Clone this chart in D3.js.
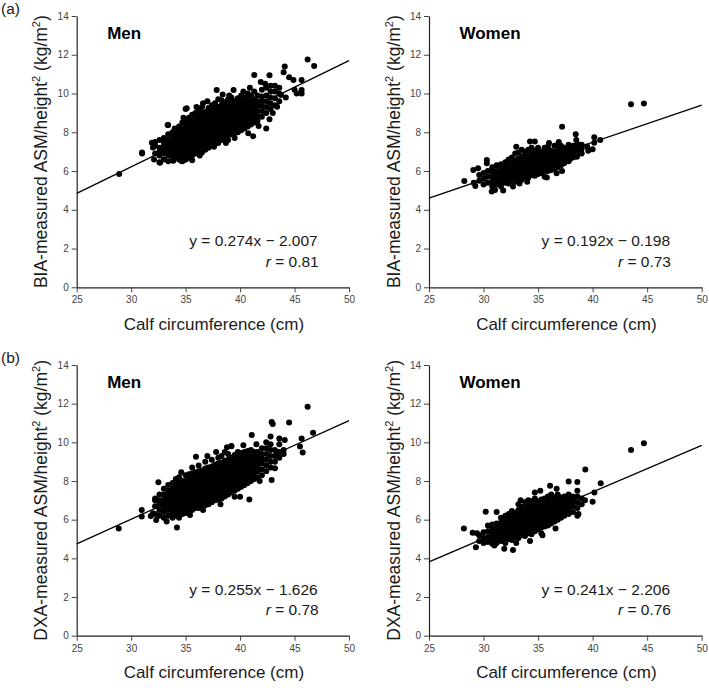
<!DOCTYPE html>
<html><head><meta charset="utf-8">
<script src="https://cdn.jsdelivr.net/npm/d3@7"></script>
<style>body{margin:0;background:#fff}svg{display:block}text{font-family:"Liberation Sans",Arial,sans-serif}</style>
</head><body>
<script>
// ---------- DATA ----------
const xTicks = [25, 30, 35, 40, 45, 50];
const yTicks = [0, 2, 4, 6, 8, 10, 12, 14];
const panelTitles = ["Men", "Women", "Men", "Women"];
const yLabelPrefixes = ["BIA", "BIA", "DXA", "DXA"];
const slopes = [0.274, 0.192, 0.255, 0.241];
const intercepts = [-2.007, -0.198, -1.626, -2.206];
const rValues = ["0.81", "0.73", "0.78", "0.76"];

// columns: [x, y1, y2, ...]
const menBIAcols = [
 [32.2,6.9,7.3,7.5],[32.6,6.45,6.8,7.0,7.2,7.6],[33.0,6.6,6.9,7.1,7.3,7.5,7.7],
 [33.4,6.5,6.8,7.0,7.2,7.4,7.6,7.9,8.38],[33.8,6.55,6.8,7.0,7.2,7.4,7.6,7.8,8.0],
 [34.1,6.7,6.9,7.1,7.3,7.5,7.7,7.9,8.1],[34.4,6.6,6.8,7.0,7.15,7.3,7.5,7.7,7.9,8.1,8.3],
 [34.7,6.5,6.75,6.95,7.1,7.3,7.45,7.6,7.8,8.0,8.2,8.5],
 [35.0,6.6,6.8,7.0,7.2,7.35,7.5,7.7,7.85,8.0,8.2,8.4,8.6,9.2],
 [35.3,6.7,6.9,7.1,7.3,7.45,7.6,7.8,7.95,8.1,8.3,8.5,8.75],
 [35.6,6.8,7.0,7.2,7.35,7.5,7.7,7.85,8.0,8.2,8.4,8.6,8.9],
 [35.9,6.9,7.1,7.3,7.45,7.6,7.8,7.95,8.1,8.3,8.5,8.7,9.0],
 [36.2,7.0,7.2,7.35,7.5,7.7,7.85,8.0,8.15,8.3,8.5,8.7,8.9,9.1],
 [36.5,6.95,7.15,7.35,7.55,7.7,7.9,8.05,8.2,8.4,8.55,8.75,9.0,9.3],
 [36.8,7.1,7.3,7.5,7.65,7.8,8.0,8.15,8.3,8.5,8.65,8.85,9.05],
 [37.1,7.2,7.4,7.6,7.75,7.9,8.1,8.25,8.4,8.6,8.8,9.0,9.25],
 [37.4,7.3,7.5,7.7,7.85,8.0,8.2,8.35,8.5,8.7,8.9,9.1,9.4],
 [37.7,7.4,7.6,7.8,7.95,8.1,8.3,8.45,8.6,8.8,9.0,9.2,9.5],
 [38.0,7.45,7.65,7.85,8.0,8.2,8.35,8.5,8.7,8.9,9.1,9.3,9.7],
 [38.3,7.6,7.8,8.0,8.15,8.3,8.5,8.65,8.8,9.0,9.2,9.4,9.65],
 [38.6,7.7,7.9,8.1,8.25,8.4,8.6,8.75,8.9,9.1,9.3,9.55],
 [38.9,7.6,7.85,8.05,8.2,8.35,8.5,8.7,8.85,9.0,9.2,9.4,9.7],
 [39.2,7.9,8.1,8.3,8.45,8.6,8.8,8.95,9.1,9.3,9.5,9.8],
 [39.5,7.95,8.15,8.35,8.5,8.7,8.85,9.0,9.2,9.4,9.6],
 [39.8,8.0,8.2,8.4,8.6,8.75,8.9,9.1,9.3,9.5,9.75],
 [40.1,8.1,8.3,8.5,8.7,8.85,9.0,9.2,9.4,9.6,9.9],
 [40.4,8.2,8.4,8.6,8.8,9.0,9.15,9.35,9.55,9.8],
 [40.7,8.3,8.5,8.7,8.9,9.1,9.3,9.5,9.7,10.0],
 [41.0,8.4,8.6,8.8,9.0,9.2,9.4,9.6,9.9],
 [41.3,8.5,8.75,9.0,9.2,9.45,9.7,10.1],
 [41.6,8.6,8.85,9.1,9.35,9.6,9.9],
 [42.0,8.8,9.1,9.35,9.6,9.85,10.2],
 [42.4,9.0,9.3,9.6,9.9,10.3],
 [42.8,9.2,9.5,9.8,10.1,10.4],
 [43.2,9.4,9.75,10.1,10.4],
 [43.6,9.6,10.0,10.3]
];
const menBIAextra = [
 [28.9,5.85],[31.0,6.9],[31.0,6.95],[46.2,11.76],[46.8,11.42],[44.1,11.39],[44.5,10.84],
 [44.0,11.1],[42.7,10.94],[41.3,10.96],[45.0,10.2],[45.65,10.7],[44.9,10.7],[45.2,10.0],
 [45.65,10.18],[45.65,10.0],[37.85,10.18],[39.4,10.18],[35.1,9.24],[42.7,8.67],[41.7,8.32],
 [40.75,7.95],[41.2,7.8],[42.4,8.2],[43.76,9.92],[44.2,9.8],[43.4,9.32],[33.35,8.38],
 [31.9,7.46],[32.0,7.22],[32.1,6.6],[32.65,6.43],[33.87,6.53],[34.6,6.53],[35.0,6.6],
 [34.0,8.2],[34.8,8.75],[36.0,9.3],[36.6,9.5],[37.0,9.6],[38.4,9.95],[39.0,9.9],[40.3,10.1],
 [40.9,10.3],[37.6,7.25],[38.7,7.45],[39.5,7.7],[36.3,6.8],[35.6,6.55],[43.0,9.0],[41.9,10.6],[42.3,10.5]
];

const womenBIAcols = [
 [29.6,5.5,5.8],[30.0,5.3,5.6,5.9],[30.4,5.4,5.7,6.0],[30.8,5.2,5.45,5.7,5.95,6.2],
 [31.2,5.3,5.55,5.8,6.0,6.3],[31.6,5.2,5.45,5.7,5.9,6.1,6.35],[32.0,5.4,5.6,5.8,6.0,6.2,6.45],
 [32.3,5.35,5.55,5.75,5.95,6.1,6.3,6.6],[32.6,5.5,5.7,5.85,6.0,6.2,6.4,6.7],
 [32.9,5.45,5.65,5.85,6.0,6.15,6.35,6.55,6.9],[33.2,5.6,5.8,5.95,6.1,6.25,6.45,6.65,6.95],
 [33.5,5.55,5.75,5.9,6.05,6.2,6.35,6.55,6.75,7.1],[33.8,5.7,5.85,6.0,6.15,6.3,6.45,6.6,6.8,7.0],
 [34.1,5.65,5.85,6.0,6.15,6.3,6.45,6.6,6.8,7.1],[34.4,5.8,5.95,6.1,6.25,6.4,6.55,6.7,6.9,7.2],
 [34.7,5.75,5.9,6.05,6.2,6.35,6.5,6.65,6.85,7.05],[35.0,5.85,6.0,6.15,6.3,6.45,6.6,6.75,6.95,7.2],
 [35.3,5.9,6.05,6.2,6.35,6.5,6.65,6.8,7.0],[35.6,5.7,6.0,6.15,6.3,6.45,6.6,6.75,6.95,7.2],
 [35.9,6.0,6.2,6.35,6.5,6.65,6.8,7.0,7.25],[36.2,6.05,6.25,6.4,6.55,6.7,6.85,7.05],
 [36.5,6.1,6.3,6.5,6.65,6.8,7.0,7.3],[36.8,6.2,6.4,6.55,6.7,6.9,7.1,7.35],
 [37.1,6.3,6.5,6.7,6.85,7.05,7.3],[37.4,6.4,6.6,6.8,7.0,7.2],[37.8,6.5,6.75,6.95,7.15,7.35],
 [38.2,6.7,6.9,7.1,7.3],[38.6,6.8,7.0,7.2,7.4],[39.0,6.9,7.15,7.35]
];
const womenBIAextra = [
 [43.52,9.44],[44.7,9.48],[37.2,8.29],[28.24,5.49],[29.25,5.23],[29.1,5.4],[29.06,6.05],
 [29.5,6.14],[30.3,6.4],[30.3,6.57],[30.75,4.94],[31.05,5.02],[31.8,4.99],[32.7,5.2],
 [38.45,7.9],[38.5,7.6],[40.15,7.74],[40.15,7.46],[40.7,7.6],[39.5,7.26],[39.6,7.05],
 [40.0,7.12],[38.55,6.74],[37.9,6.6],[37.2,6.0],[36.7,5.88],[35.8,5.66],[34.26,7.52],[34.7,7.52],
 [33.0,7.25],[36.0,7.45],[36.9,7.5],[34.0,5.45],[33.3,5.35]
];

const menDXAcols = [
 [32.2,6.3,6.7,7.0,7.1],[32.6,6.2,6.5,6.8,7.0,7.3],[33.0,6.1,6.4,6.6,6.85,7.05,7.3,7.6],
 [33.4,6.2,6.5,6.7,6.9,7.1,7.3,7.5,7.8],[33.8,6.1,6.35,6.6,6.8,7.0,7.2,7.4,7.6,7.9],
 [34.1,6.2,6.45,6.65,6.85,7.05,7.25,7.45,7.65,7.85,8.1],
 [34.4,6.1,6.35,6.55,6.75,6.95,7.1,7.3,7.5,7.7,7.9,8.2],
 [34.7,6.3,6.5,6.7,6.9,7.05,7.25,7.4,7.6,7.8,8.0],
 [35.0,6.35,6.55,6.75,6.9,7.1,7.25,7.45,7.6,7.8,8.0,8.3],
 [35.3,6.4,6.6,6.8,6.95,7.15,7.3,7.5,7.65,7.85,8.05,8.35],
 [35.6,6.5,6.7,6.9,7.05,7.2,7.4,7.55,7.7,7.9,8.1,8.4,8.7],
 [35.9,6.6,6.8,7.0,7.15,7.3,7.5,7.65,7.8,8.0,8.2,8.45],
 [36.2,6.6,6.85,7.05,7.2,7.4,7.55,7.7,7.9,8.05,8.25,8.5,8.8],
 [36.5,6.7,6.9,7.1,7.3,7.45,7.6,7.8,7.95,8.1,8.3,8.55],
 [36.8,6.75,7.0,7.2,7.35,7.5,7.7,7.85,8.0,8.2,8.4,8.65,9.0],
 [37.1,6.8,7.05,7.25,7.4,7.6,7.75,7.9,8.1,8.25,8.45,8.7],
 [37.4,6.9,7.1,7.3,7.5,7.65,7.8,8.0,8.15,8.3,8.5,8.75,9.1],
 [37.7,7.0,7.2,7.4,7.55,7.7,7.9,8.05,8.2,8.4,8.6,8.85],
 [38.0,7.05,7.3,7.45,7.6,7.8,7.95,8.1,8.3,8.45,8.65,8.9,9.2],
 [38.3,7.1,7.35,7.55,7.7,7.85,8.0,8.2,8.35,8.5,8.7,8.95,9.3],
 [38.6,7.2,7.45,7.6,7.8,7.95,8.1,8.3,8.45,8.6,8.8,9.05,9.5],
 [38.9,7.3,7.5,7.7,7.85,8.0,8.2,8.35,8.5,8.7,8.9,9.1,9.4],
 [39.2,7.4,7.6,7.8,7.95,8.1,8.3,8.45,8.6,8.8,9.0,9.2,9.8],
 [39.5,7.5,7.7,7.9,8.05,8.2,8.4,8.55,8.7,8.9,9.1,9.35],
 [39.8,7.6,7.8,8.0,8.15,8.3,8.5,8.65,8.8,9.0,9.2,9.5],
 [40.1,7.7,7.9,8.1,8.25,8.4,8.6,8.8,9.0,9.2,9.45],
 [40.4,7.8,8.0,8.2,8.4,8.6,8.8,9.0,9.2,9.5],
 [40.7,7.9,8.1,8.3,8.5,8.7,8.9,9.1,9.3,9.55],
 [41.0,8.0,8.25,8.5,8.7,8.9,9.1,9.3,9.6],
 [41.3,8.1,8.4,8.6,8.8,9.0,9.25,9.5],
 [41.6,8.2,8.5,8.75,9.0,9.25,9.5],
 [42.0,8.3,8.6,8.9,9.15,9.4,9.7],
 [42.4,8.5,8.8,9.1,9.4,9.7,10.0],
 [42.8,8.7,9.0,9.3,9.6,9.9,10.3],
 [43.2,9.0,9.3,9.6],
 [43.6,9.2,9.5,9.9,10.2],
 [44.0,9.4,9.6]
];
const menDXAextra = [
 [28.86,5.55],[30.97,6.5],[30.97,6.16],[46.2,11.84],[46.7,10.5],[44.5,11.02],[42.9,11.05],
 [43.0,10.95],[41.07,10.38],[45.65,10.2],[45.75,9.47],[45.5,9.78],[44.1,10.12],[43.36,9.43],
 [43.2,8.66],[42.9,8.05],[40.85,7.05],[40.0,7.19],[39.5,7.19],[34.2,5.6],[35.4,6.24],
 [31.8,6.19],[32.0,6.33],[32.3,5.98],[33.26,5.9],[32.5,7.93],[35.95,9.26],[39.2,9.81],
 [34.6,8.45],[37.0,9.3],[37.8,9.5],[38.8,9.75],[40.3,9.85],[41.5,9.9],[36.6,6.5],[38.2,6.8],[41.8,8.0]
];

const womenDXAcols = [
 [29.6,4.9,5.2],[30.0,4.8,5.05,5.35],[30.4,4.85,5.1,5.4,5.7],[30.8,4.75,5.0,5.25,5.5,5.75],
 [31.2,4.8,5.05,5.3,5.55,5.8,6.4],[31.6,4.9,5.15,5.4,5.6,5.85,6.1],
 [32.0,4.8,5.05,5.3,5.5,5.7,5.95,6.2],[32.3,5.0,5.2,5.4,5.6,5.8,6.0,6.3],
 [32.6,4.95,5.15,5.35,5.55,5.75,5.95,6.2,6.45],[32.9,5.1,5.3,5.5,5.7,5.9,6.1,6.35],
 [33.2,5.05,5.25,5.45,5.65,5.85,6.05,6.25,6.5,6.8],[33.5,5.2,5.4,5.6,5.8,6.0,6.2,6.4,6.65],
 [33.8,5.15,5.35,5.55,5.75,5.95,6.15,6.35,6.6,6.9],[34.1,5.3,5.5,5.7,5.9,6.1,6.3,6.5,6.75,7.0],
 [34.4,5.25,5.45,5.65,5.85,6.05,6.25,6.45,6.7,6.95],[34.7,5.4,5.6,5.8,6.0,6.2,6.4,6.6,6.85,7.1],
 [35.0,5.5,5.7,5.9,6.1,6.3,6.5,6.7,6.95],[35.3,5.6,5.8,6.0,6.2,6.4,6.6,6.8,7.05],
 [35.6,5.65,5.85,6.05,6.25,6.45,6.65,6.85,7.1],[35.9,5.7,5.95,6.15,6.35,6.55,6.75,6.95,7.2],
 [36.2,5.8,6.0,6.2,6.4,6.6,6.8,7.0,7.3],[36.5,5.9,6.1,6.3,6.5,6.7,6.9,7.15],
 [36.8,6.0,6.2,6.4,6.6,6.8,7.0,7.3],[37.1,6.1,6.3,6.5,6.7,6.9,7.15],[37.4,6.2,6.4,6.6,6.8,7.0,7.2],
 [37.8,6.3,6.55,6.8,7.05,7.3],[38.2,6.4,6.7,6.95,7.2],[38.6,6.2,6.6,6.9,7.2,7.5],[39.0,6.8,7.1]
];
const womenDXAextra = [
 [43.52,9.6],[44.7,9.95],[39.33,8.6],[40.74,7.88],[40.16,7.41],[40.0,6.93],[39.3,7.0],
 [38.6,7.95],[37.8,7.97],[36.1,7.76],[34.7,7.4],[28.2,5.55],[29.0,5.33],[29.4,5.3],[29.3,4.57],
 [30.2,6.41],[31.0,4.66],[31.9,4.5],[32.7,4.43],[34.26,4.9],[35.4,5.2],[35.3,5.3],[36.6,5.55],[38.7,6.3],
 [33.4,7.0],[35.2,7.5],[36.7,7.6],[33.0,4.8]
];

// ---------- LAYOUT ----------
const W = 709, H = 688;
const layout = [
 {x0:76.7, x1:349, yTop:16, yBot:287.3, panelLabel:"(a)"},
 {x0:429, x1:701.7, yTop:16, yBot:287.3, panelLabel:null},
 {x0:76.7, x1:349, yTop:365, yBot:635.7, panelLabel:"(b)"},
 {x0:429, x1:701.7, yTop:365, yBot:635.7, panelLabel:null}
];
const colsList = [menBIAcols, womenBIAcols, menDXAcols, womenDXAcols];
const extraList = [menBIAextra, womenBIAextra, menDXAextra, womenDXAextra];

function flatten(cols, extra) {
  const pts = [];
  cols.forEach(c => { for (let i = 1; i < c.length; i++) pts.push([c[0], c[i]]); });
  extra.forEach(p => pts.push(p));
  return pts;
}

const svg = d3.select("body").append("svg").attr("width", W).attr("height", H);
const ink = "#1a1a1a";

layout.forEach((L, i) => {
  const x = d3.scaleLinear().domain([25, 50]).range([L.x0, L.x1]);
  const y = d3.scaleLinear().domain([0, 14]).range([L.yBot, L.yTop]);
  const g = svg.append("g");

  const ax = g.append("g").attr("transform", `translate(0,${L.yBot})`)
    .call(d3.axisBottom(x).tickValues(xTicks).tickSize(5).tickSizeOuter(0).tickPadding(4));
  const ay = g.append("g").attr("transform", `translate(${L.x0},0)`)
    .call(d3.axisLeft(y).tickValues(yTicks).tickSize(5).tickSizeOuter(0).tickPadding(3));
  [ax, ay].forEach(a => {
    a.select(".domain").attr("stroke", "#222").attr("stroke-width", 1.2);
    a.selectAll(".tick line").attr("stroke", "#444").attr("stroke-width", 1);
    a.selectAll(".tick text").attr("fill", "#444").style("font-size", "10px")
      .style("font-family", '"Liberation Sans",Arial,sans-serif');
  });

  const pts = flatten(colsList[i], extraList[i]);
  g.append("g").selectAll("circle").data(pts).join("circle")
    .attr("cx", d => x(d[0])).attr("cy", d => y(d[1])).attr("r", 3).attr("fill", "#000");

  const line = d3.line().x(d => x(d)).y(d => y(slopes[i] * d + intercepts[i]));
  g.append("path").datum([25, 50]).attr("d", line).attr("fill", "none")
    .attr("stroke", "#000").attr("stroke-width", 1.3);

  g.append("text").attr("x", L.x0 + 30.5).attr("y", L.yTop + 22.5)
    .attr("font-weight", "bold").attr("font-size", 17).attr("fill", "#000").text(panelTitles[i]);

  const right = L.x0 + 241;
  const eq = g.append("text").attr("x", right).attr("y", L.yBot - 41).attr("text-anchor", "end")
    .attr("font-size", 15.5).attr("fill", ink);
  const b = intercepts[i];
  eq.text(`y = ${slopes[i].toFixed(3)}x \u2212 ${Math.abs(b).toFixed(3)}`);
  const rt = g.append("text").attr("x", right + 1).attr("y", L.yBot - 20.5).attr("text-anchor", "end")
    .attr("font-size", 15.5).attr("fill", ink);
  rt.append("tspan").attr("font-style", "italic").text("r");
  rt.append("tspan").text(` = ${rValues[i]}`);

  g.append("text").attr("x", (L.x0 + L.x1) / 2 + 1).attr("y", L.yBot + 42.5)
    .attr("text-anchor", "middle").attr("font-size", 17).attr("fill", ink)
    .text("Calf circumference (cm)");

  const cy = (L.yTop + L.yBot) / 2;
  const yl = g.append("text").attr("transform", `translate(${L.x0 - 29.5},${cy}) rotate(-90)`)
    .attr("text-anchor", "middle").attr("font-size", 17.5).attr("fill", ink);
  yl.append("tspan").text(`${yLabelPrefixes[i]}-measured ASM/height`);
  yl.append("tspan").attr("font-size", 11).attr("dy", -7).text("2");
  yl.append("tspan").attr("dy", 7).text(" (kg/m");
  yl.append("tspan").attr("font-size", 11).attr("dy", -7).text("2");
  yl.append("tspan").attr("dy", 7).text(")");

  if (L.panelLabel) {
    svg.append("text").attr("x", 1).attr("y", L.yTop - 2.5).attr("font-size", 15.5).attr("fill", ink)
      .text(L.panelLabel);
  }
});
</script>
</body></html>
